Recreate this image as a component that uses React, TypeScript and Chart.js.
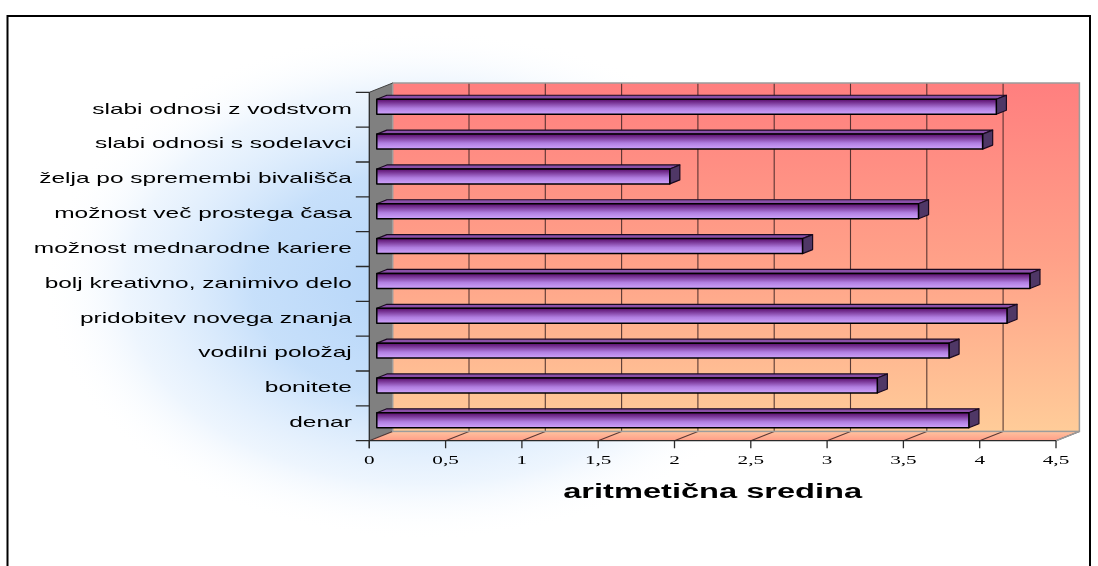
import React, { useEffect, useRef } from "react";
import { Chart, registerables } from "chart.js";

Chart.register(...registerables);

// Reasons for leaving, mean score per item (top to bottom)
const categories = [
  "slabi odnosi z vodstvom",
  "slabi odnosi s sodelavci",
  "želja po spremembi bivališča",
  "možnost več prostega časa",
  "možnost mednarodne kariere",
  "bolj kreativno, zanimivo delo",
  "pridobitev novega znanja",
  "vodilni položaj",
  "bonitete",
  "denar",
];
const means = [4.06, 3.97, 1.92, 3.55, 2.79, 4.28, 4.13, 3.75, 3.28, 3.88];
const xTickValues = [0, 0.5, 1, 1.5, 2, 2.5, 3, 3.5, 4, 4.5];
const xTickLabels = ["0", "0,5", "1", "1,5", "2", "2,5", "3", "3,5", "4", "4,5"];
const xAxisTitle = "aritmetična sredina";

const W = 1098;
const H = 566;
// depth of the 3D box (front plane -> back wall)
const DX = 23.4;
const DY = -9.3;
// bars occupy this slice of the depth
const BAR_D0 = 0.32;
const BAR_D1 = 0.75;
// wide text rendering
const STRETCH = 1.63;

function stretchedText(
  ctx: CanvasRenderingContext2D,
  text: string,
  x: number,
  y: number,
  font: string,
  align: CanvasTextAlign,
  color: string
) {
  ctx.save();
  ctx.translate(x, y);
  ctx.scale(STRETCH, 1);
  ctx.font = font;
  ctx.textAlign = align;
  ctx.textBaseline = "alphabetic";
  ctx.fillStyle = color;
  ctx.fillText(text, 0, 0);
  ctx.restore();
}

const scene3d = {
  id: "scene3d",
  beforeDraw(chart: any) {
    const { ctx, chartArea: a, scales } = chart;
    const xs = scales.x;
    const ys = scales.y;
    const x0 = xs.getPixelForValue(xTickValues[0]);
    const x1 = xs.getPixelForValue(xTickValues[xTickValues.length - 1]);
    const top = a.top;
    const bottom = a.bottom;

    ctx.save();
    // page
    ctx.fillStyle = "#ffffff";
    ctx.fillRect(0, 0, W, H);

    // soft blue glow around the plot's left side
    ctx.save();
    ctx.translate(425, 285);
    ctx.scale(1.5, 1);
    const glow = ctx.createRadialGradient(0, 0, 0, 0, 0, 255);
    glow.addColorStop(0, "rgba(178,211,248,1)");
    glow.addColorStop(0.45, "rgba(194,221,250,0.92)");
    glow.addColorStop(0.78, "rgba(226,239,253,0.6)");
    glow.addColorStop(1, "rgba(255,255,255,0)");
    ctx.fillStyle = glow;
    ctx.fillRect(-700, -500, 1400, 1000);
    ctx.restore();

    // outer frame
    ctx.strokeStyle = "#000000";
    ctx.lineWidth = 2;
    ctx.beginPath();
    ctx.moveTo(7.5, H);
    ctx.lineTo(7.5, 16);
    ctx.lineTo(1090, 16);
    ctx.lineTo(1090, H);
    ctx.stroke();

    // back wall
    const wallGrad = ctx.createLinearGradient(0, top + DY, 0, bottom + DY);
    wallGrad.addColorStop(0, "#ff7f7f");
    wallGrad.addColorStop(0.5, "#ffa088");
    wallGrad.addColorStop(1, "#ffcc99");
    ctx.fillStyle = wallGrad;
    ctx.fillRect(x0 + DX, top + DY, x1 - x0, bottom - top);

    // floor
    const floorGrad = ctx.createLinearGradient(0, bottom + DY, 0, bottom);
    floorGrad.addColorStop(0, "#ffc4a0");
    floorGrad.addColorStop(1, "#ff9c86");
    ctx.fillStyle = floorGrad;
    ctx.beginPath();
    ctx.moveTo(x0, bottom);
    ctx.lineTo(x0 + DX, bottom + DY);
    ctx.lineTo(x1 + DX, bottom + DY);
    ctx.lineTo(x1, bottom);
    ctx.closePath();
    ctx.fill();

    // left side wall
    ctx.fillStyle = "#808080";
    ctx.beginPath();
    ctx.moveTo(x0, top);
    ctx.lineTo(x0 + DX, top + DY);
    ctx.lineTo(x0 + DX, bottom + DY);
    ctx.lineTo(x0, bottom);
    ctx.closePath();
    ctx.fill();

    // gridlines on the back wall and across the floor
    ctx.strokeStyle = "rgba(60,35,35,0.85)";
    ctx.lineWidth = 1.1;
    xTickValues.forEach((v, i) => {
      const px = xs.getPixelForValue(v);
      if (i > 0 && i < xTickValues.length - 1) {
        ctx.beginPath();
        ctx.moveTo(px + DX, top + DY);
        ctx.lineTo(px + DX, bottom + DY);
        ctx.stroke();
      }
      ctx.beginPath();
      ctx.moveTo(px, bottom);
      ctx.lineTo(px + DX, bottom + DY);
      ctx.stroke();
    });

    // wall outline
    ctx.strokeStyle = "#9c9c9c";
    ctx.lineWidth = 1.5;
    ctx.strokeRect(x0 + DX, top + DY, x1 - x0, bottom - top);
    ctx.beginPath();
    ctx.moveTo(x1, bottom);
    ctx.lineTo(x1 + DX, bottom + DY);
    ctx.stroke();

    // side wall top edge
    ctx.strokeStyle = "#404040";
    ctx.lineWidth = 1;
    ctx.beginPath();
    ctx.moveTo(x0, top);
    ctx.lineTo(x0 + DX, top + DY);
    ctx.stroke();

    // axes
    ctx.strokeStyle = "#2a2a2a";
    ctx.lineWidth = 1.3;
    ctx.beginPath();
    ctx.moveTo(x0, top);
    ctx.lineTo(x0, bottom + 7.5);
    ctx.moveTo(x0, bottom);
    ctx.lineTo(x1, bottom);
    ctx.stroke();

    // category ticks (band boundaries)
    const band = (bottom - top) / categories.length;
    ctx.beginPath();
    for (let i = 0; i <= categories.length; i++) {
      const py =
        i < categories.length
          ? ys.getPixelForValue(i) - band / 2
          : ys.getPixelForValue(categories.length - 1) + band / 2;
      ctx.moveTo(x0 - 13.5, py);
      ctx.lineTo(x0, py);
    }
    ctx.stroke();

    // value ticks
    ctx.beginPath();
    xTickValues.forEach((v) => {
      const px = xs.getPixelForValue(v);
      ctx.moveTo(px, bottom);
      ctx.lineTo(px, bottom + 7.5);
    });
    ctx.stroke();

    // value tick labels
    xTickValues.forEach((v, i) => {
      stretchedText(
        ctx,
        xTickLabels[i],
        xs.getPixelForValue(v),
        bottom + 23.5,
        '13px "Liberation Serif", "Times New Roman", serif',
        "center",
        "#000000"
      );
    });

    // category labels
    categories.forEach((c, i) => {
      stretchedText(
        ctx,
        c,
        x0 - 17.5,
        ys.getPixelForValue(i) + 3.8,
        '15px "Liberation Sans", Arial, sans-serif',
        "right",
        "#000000"
      );
    });

    // axis title
    stretchedText(
      ctx,
      xAxisTitle,
      (x0 + x1) / 2,
      bottom + 57.5,
      'bold 20px "Liberation Sans", Arial, sans-serif',
      "center",
      "#000000"
    );

    ctx.restore();
  },
  afterDatasetsDraw(chart: any) {
    const { ctx } = chart;
    const meta = chart.getDatasetMeta(0);
    const ox = BAR_D0 * DX;
    const oy = BAR_D0 * DY;
    const dx = (BAR_D1 - BAR_D0) * DX;
    const dy = (BAR_D1 - BAR_D0) * DY;
    ctx.save();
    ctx.lineJoin = "round";
    meta.data.forEach((el: any) => {
      const p = el.getProps(["x", "y", "base", "height"], true);
      const left = p.base + ox;
      const right = p.x + ox;
      const t = p.y - p.height / 2 + oy;
      const b = p.y + p.height / 2 + oy;

      // top face
      ctx.beginPath();
      ctx.moveTo(left, t);
      ctx.lineTo(left + dx, t + dy);
      ctx.lineTo(right + dx, t + dy);
      ctx.lineTo(right, t);
      ctx.closePath();
      ctx.fillStyle = "#8a4fa8";
      ctx.fill();
      ctx.strokeStyle = "#1a0a20";
      ctx.lineWidth = 1.2;
      ctx.stroke();

      // end cap
      ctx.beginPath();
      ctx.moveTo(right, t);
      ctx.lineTo(right + dx, t + dy);
      ctx.lineTo(right + dx, b + dy);
      ctx.lineTo(right, b);
      ctx.closePath();
      ctx.fillStyle = "#4f3766";
      ctx.fill();
      ctx.stroke();

      // front face
      const fg = ctx.createLinearGradient(0, t, 0, b);
      fg.addColorStop(0, "#5a0c6c");
      fg.addColorStop(0.25, "#7c3a9a");
      fg.addColorStop(0.6, "#b07ee0");
      fg.addColorStop(1, "#d0a4fb");
      ctx.fillStyle = fg;
      ctx.fillRect(left, t, right - left, b - t);
      ctx.lineWidth = 1.5;
      ctx.strokeStyle = "#000000";
      ctx.strokeRect(left, t, right - left, b - t);
    });
    ctx.restore();
  },
};

export default function App() {
  const ref = useRef<HTMLCanvasElement>(null);

  useEffect(() => {
    const canvas = ref.current;
    if (!canvas) return;
    const chart = new Chart(canvas, {
      type: "bar",
      data: {
        labels: categories,
        datasets: [
          {
            data: means,
            backgroundColor: "rgba(0,0,0,0)",
            borderWidth: 0,
            barPercentage: 0.43,
            categoryPercentage: 1,
          },
        ],
      },
      options: {
        indexAxis: "y",
        responsive: false,
        animation: false,
        devicePixelRatio: 1,
        layout: {
          padding: { left: 369.3, top: 92.3, right: W - 1056, bottom: H - 440.7 },
        },
        scales: {
          x: { type: "linear", min: 0, max: 4.5, display: false },
          y: { type: "category", display: false, offset: true },
        },
        plugins: {
          legend: { display: false },
          tooltip: { enabled: false },
        },
      },
      plugins: [scene3d],
    });
    return () => chart.destroy();
  }, []);

  return (
    <div style={{ position: "fixed", left: 0, top: 0, width: W, height: H }}>
      <canvas ref={ref} width={W} height={H} style={{ display: "block", width: W, height: H }} />
    </div>
  );
}
